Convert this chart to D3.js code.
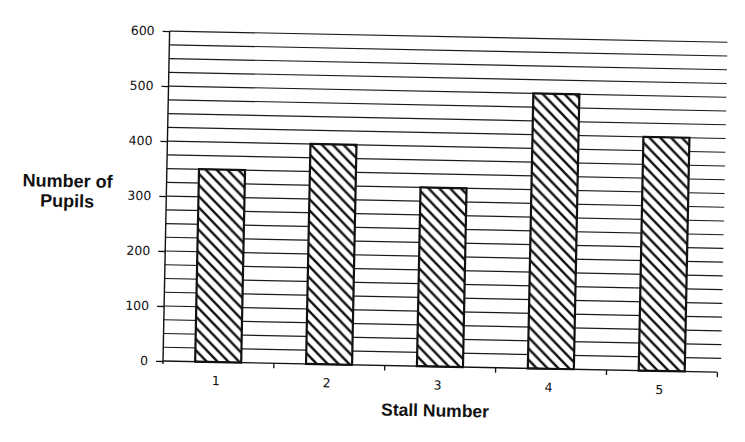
<!DOCTYPE html>
<html>
<head>
<meta charset="utf-8">
<script src="https://cdn.jsdelivr.net/npm/d3@7"></script>
<style>
  html, body { margin: 0; padding: 0; background: #fff; }
  svg { display: block; }
</style>
</head>
<body>
<svg id="chart" width="745" height="442"></svg>
<script>
// ---- data ----
const categories = ["1", "2", "3", "4", "5"];
const values = [350, 400, 325, 500, 425];
const yTicks = [0, 100, 200, 300, 400, 500, 600];
const yTitleLines = ["Number of", "Pupils"];
const xTitle = "Stall Number";

// ---- layout ----
const W = 745, H = 442;
const originX = 163, originY = 361;   // axis origin (rotation centre)
const plotW = 554, plotH = 330;
const tilt = 1.15;                    // slight scan rotation, degrees

const svg = d3.select("#chart");

const defs = svg.append("defs");
const pat = defs.append("pattern")
  .attr("id", "hatch")
  .attr("patternUnits", "userSpaceOnUse")
  .attr("width", 11).attr("height", 11);
pat.append("rect").attr("width", 11).attr("height", 11).attr("fill", "#fff");
pat.append("path")
  .attr("d", "M-5.5,5.5 L5.5,16.5 M0,0 L11,11 M5.5,-5.5 L16.5,5.5")
  .attr("stroke", "#111").attr("stroke-width", 2.4);

const g = svg.append("g")
  .attr("transform", `rotate(${tilt},${originX},${originY}) translate(${originX},${originY - plotH})`);

const x = d3.scaleBand().domain(categories).range([0, plotW]).paddingInner(0.585).paddingOuter(0.29);
const y = d3.scaleLinear().domain([0, 600]).range([plotH, 0]);

// minor gridlines every 25
const gridVals = d3.range(25, 601, 25);
g.append("g").selectAll("line").data(gridVals).join("line")
  .attr("x1", 0).attr("x2", plotW + 4)
  .attr("y1", d => y(d)).attr("y2", d => y(d))
  .attr("stroke", "#1a1a1a").attr("stroke-width", 1.2);

// y axis
const yAxis = g.append("g")
  .call(d3.axisLeft(y).tickValues(yTicks).tickSize(7).tickPadding(8).tickFormat(d3.format("d")));
yAxis.select(".domain").attr("stroke", "#111").attr("stroke-width", 1.4).attr("d", `M0,${plotH + 3}V0`);
yAxis.selectAll(".tick line").attr("stroke", "#111").attr("stroke-width", 1.3);
yAxis.selectAll("text").attr("font-family", "DejaVu Sans, Verdana, sans-serif").attr("font-size", 12.5).attr("fill", "#111");

// bars
g.append("g").selectAll("rect").data(values).join("rect")
  .attr("x", (d, i) => x(categories[i]))
  .attr("y", d => y(d))
  .attr("width", x.bandwidth())
  .attr("height", d => y(0) - y(d))
  .attr("fill", "url(#hatch)")
  .attr("stroke", "#111").attr("stroke-width", 2.2);

// x axis with ticks at band boundaries
const xAxisG = g.append("g").attr("transform", `translate(0,${plotH})`);
xAxisG.append("line").attr("x1", 0).attr("x2", plotW).attr("y1", 0).attr("y2", 0)
  .attr("stroke", "#111").attr("stroke-width", 1.4);
const step = x.step();
const boundaries = d3.range(1, categories.length + 1).map(i => x(categories[i - 1]) - x.paddingOuter() * step + step);
xAxisG.selectAll("line.tk").data(boundaries).join("line").attr("class", "tk")
  .attr("x1", d => d).attr("x2", d => d).attr("y1", 0).attr("y2", 5)
  .attr("stroke", "#111").attr("stroke-width", 1.3);
xAxisG.selectAll("text.cat").data(categories).join("text").attr("class", "cat")
  .attr("x", d => x(d) + x.bandwidth() / 2 - 2)
  .attr("y", 23)
  .attr("text-anchor", "middle")
  .attr("font-family", "DejaVu Sans, Verdana, sans-serif").attr("font-size", 12.5).attr("fill", "#111")
  .text(d => d);

// axis titles
g.append("text")
  .attr("x", 273).attr("y", plotH + 50)
  .attr("text-anchor", "middle")
  .attr("font-family", "Liberation Sans, Arial, sans-serif").attr("font-weight", "bold")
  .attr("font-size", 17.5).attr("fill", "#111")
  .text(xTitle);

g.append("text")
  .attr("x", -99).attr("y", plotH - 172)
  .attr("text-anchor", "middle")
  .attr("font-family", "Liberation Sans, Arial, sans-serif").attr("font-weight", "bold")
  .attr("font-size", 18).attr("fill", "#111")
  .selectAll("tspan").data(yTitleLines).join("tspan")
  .attr("x", -99).attr("dy", (d, i) => i === 0 ? 0 : 20)
  .text(d => d);
</script>
</body>
</html>
